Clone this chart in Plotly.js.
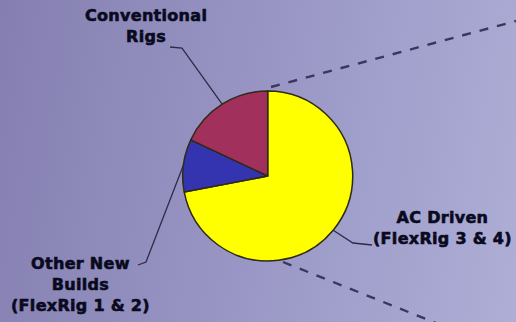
<!DOCTYPE html>
<html>
<head>
<meta charset="utf-8">
<script src="https://cdn.plot.ly/plotly-3.0.1.min.js"></script>
<style>
html,body{margin:0;padding:0;width:516px;height:322px;overflow:hidden;}
#chart{width:516px;height:322px;background:linear-gradient(100deg,#847fb0 0%,#9996c5 50%,#aeaed6 100%);}
.annotation-text{stroke:#0a0a1e;stroke-width:0.6px;letter-spacing:0.3px;}
</style>
</head>
<body>
<div id="chart"></div>
<script>
var categories = ["AC Driven", "Other New Builds", "Conventional Rigs"];
var labelTexts = ["AC Driven<br>(FlexRig 3 & 4)", "Other New<br>Builds<br>(FlexRig 1 & 2)", "Conventional<br>Rigs"];
var values = [72, 10, 18];
var colors = ["#ffff00", "#3434b0", "#a2305c"];

var W = 516, H = 322;
var cx = 267.7, cy = 176, R = 85;
function px(x){return x / W;}
function py(y){return 1 - y / H;}

// mid-angle of each slice (clockwise from 12 o'clock)
var total = values.reduce(function(a,b){return a+b;},0);
var mids = [], acc = 0;
for (var i = 0; i < values.length; i++) {
  var a0 = acc / total * 360, a1 = (acc + values[i]) / total * 360;
  mids.push((a0 + a1) / 2);
  acc += values[i];
}
function edge(deg){
  var r = deg * Math.PI / 180;
  return [cx + R * Math.sin(r), cy - R * Math.cos(r)];
}

// leader line elbows/ends (pixel) and label positions
var leaders = [
  {elbow:[353,243], end:[372,245]},
  {elbow:[146,262], end:[138,265]},
  {elbow:[182,48], end:[170,47]}
];
var labelPos = [[442,228],[80,284],[146,26]];

var shapes = [];
for (var i = 0; i < 3; i++) {
  var p = edge(mids[i]);
  shapes.push({type:"path", xref:"paper", yref:"paper",
    path:"M"+px(p[0])+","+py(p[1])+" L"+px(leaders[i].elbow[0])+","+py(leaders[i].elbow[1])+" L"+px(leaders[i].end[0])+","+py(leaders[i].end[1]),
    line:{color:"#2c2c48", width:1.3}});
}
// pie-of-pie connector lines
shapes.push({type:"line", xref:"paper", yref:"paper", x0:px(271), y0:py(87), x1:px(516), y1:py(21),
  line:{color:"#38385c", width:2.4, dash:"dash"}});
shapes.push({type:"line", xref:"paper", yref:"paper", x0:px(283), y0:py(262), x1:px(436), y1:py(323),
  line:{color:"#38385c", width:2.4, dash:"dash"}});

var annotations = [];
for (var i = 0; i < 3; i++) {
  annotations.push({xref:"paper", yref:"paper", x:px(labelPos[i][0]), y:py(labelPos[i][1]),
    text:"<b>"+labelTexts[i]+"</b>", showarrow:false, align:"center",
    xanchor:"center", yanchor:"middle",
    font:{family:"DejaVu Sans", size:16, color:"#0a0a1e"}});
}

var trace = {
  type:"pie", labels:categories, values:values, sort:false, direction:"clockwise", rotation:0,
  marker:{colors:colors, line:{color:"#2e2a14", width:1.5}},
  textinfo:"none", hoverinfo:"label+value", showlegend:false,
  domain:{x:[px(cx-R), px(cx+R)], y:[py(cy+R), py(cy-R)]}
};

var layout = {
  width:W, height:H, margin:{l:0,r:0,t:0,b:0},
  paper_bgcolor:"rgba(0,0,0,0)", plot_bgcolor:"rgba(0,0,0,0)",
  showlegend:false, shapes:shapes, annotations:annotations
};
Plotly.newPlot("chart", [trace], layout, {staticPlot:true, displayModeBar:false});
</script>
</body>
</html>
